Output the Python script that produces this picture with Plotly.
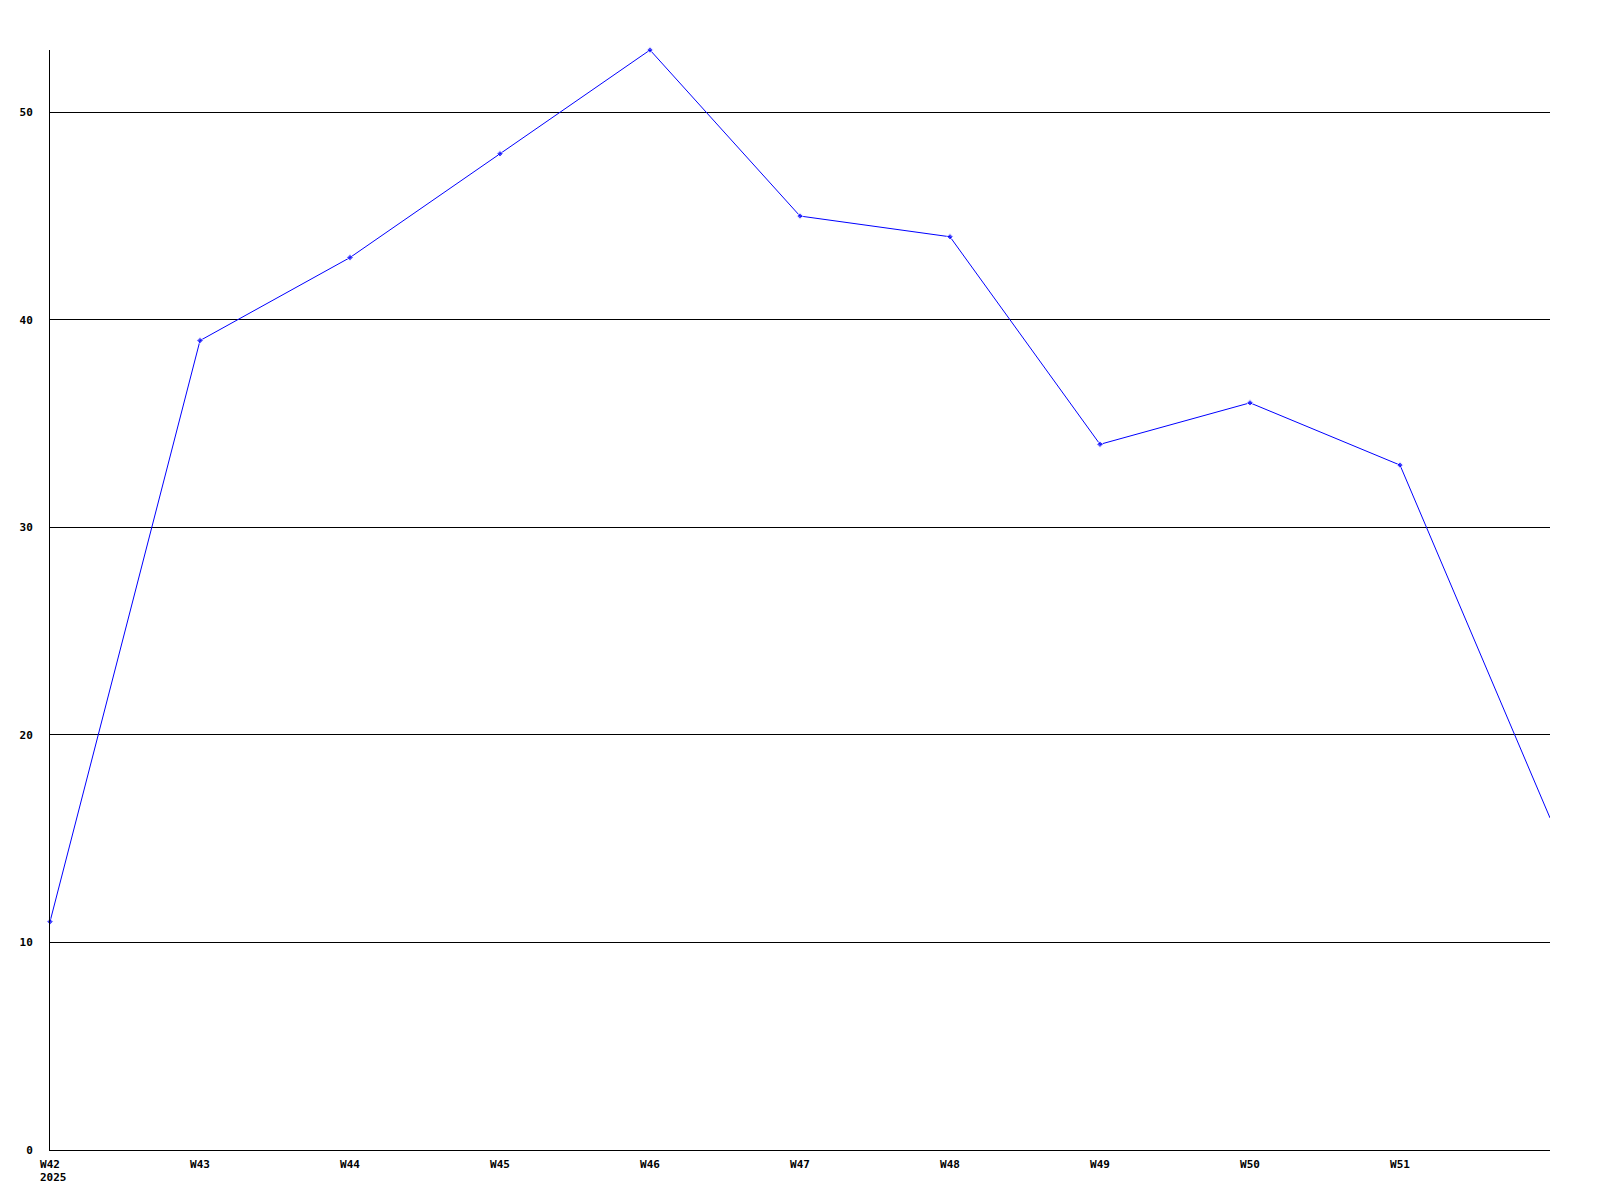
import plotly.graph_objects as go

weeks = ["W42", "W43", "W44", "W45", "W46", "W47", "W48", "W49", "W50", "W51", "W52"]
values = [11, 39, 43, 48, 53, 45, 44, 34, 36, 33, 16]
tick_labels = ["W42", "W43", "W44", "W45", "W46", "W47", "W48", "W49", "W50", "W51"]
year_label = "2025"
y_ticks = [0, 10, 20, 30, 40, 50]

xpos = list(range(len(weeks)))
font = dict(family="DejaVu Sans Mono", size=11, color="black", weight="bold")

# the last point sits on the right edge and has no marker in the original
marker_sizes = [5] * (len(values) - 1) + [0]

fig = go.Figure()
fig.add_trace(go.Scatter(
    x=xpos, y=values,
    mode="lines+markers",
    line=dict(color="#0000ff", width=1),
    marker=dict(color="#0000ff", size=marker_sizes, symbol="diamond"),
    cliponaxis=False,
    hovertext=weeks,
))

fig.add_annotation(
    x=0, y=0, xref="x", yref="paper",
    text=year_label, showarrow=False,
    xanchor="left", yanchor="top",
    xshift=-12, yshift=-19,
    font=font,
)

# page body adds 8px, so margins are shifted to keep the plot at 50..1550
fig.update_layout(
    width=1600, height=1200,
    margin=dict(l=42, r=58, t=42, b=58),
    paper_bgcolor="white", plot_bgcolor="white",
    showlegend=False,
    xaxis=dict(
        range=[0, 10],
        tickvals=xpos[:len(tick_labels)],
        ticktext=tick_labels,
        showgrid=False, zeroline=False,
        showline=True, linecolor="black", linewidth=1,
        ticks="", tickfont=font, ticklabelstandoff=4,
    ),
    yaxis=dict(
        range=[0, 53],
        tickvals=y_ticks,
        showgrid=True, gridcolor="black", gridwidth=1,
        zeroline=False,
        showline=True, linecolor="black", linewidth=1,
        ticks="", tickfont=font, ticklabelstandoff=14,
    ),
)

fig.write_html("out.html")
